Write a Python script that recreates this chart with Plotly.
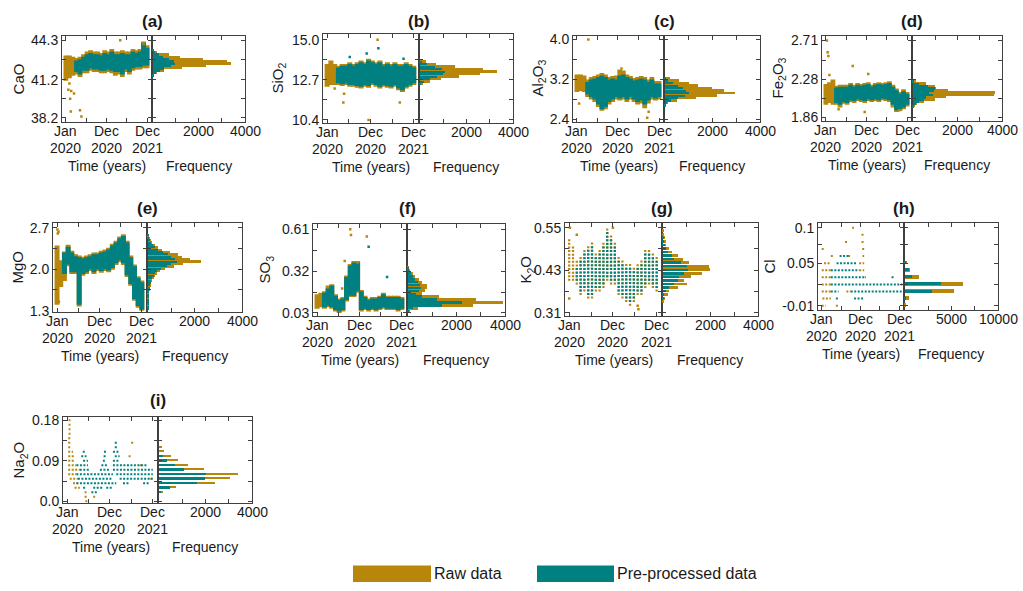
import plotly.graph_objects as go

W, H = 1023, 591
GOLD = "#B8860B"
TEAL = "#008080"
AXC = "#404040"
TXT = "#1a1a1a"
FONT = "Liberation Sans, Arial, Helvetica, sans-serif"

# ---------------- shared time axis (months since Jan 2020) ----------------
months = list(range(24))
time_tickvals = [0, 11.5, 23]
time_minor_ticks = [5.75, 17.25]
time_labels_l1 = ["Jan", "Dec", "Dec"]
time_labels_l2 = ["2020", "2020", "2021"]

# ---------------- (a) CaO ----------------
a_raw_lo = [41.1, 41.3, 41.5, 41.6, 41.4, 41.7, 41.7, 41.9, 41.8, 41.8, 41.7, 41.7, 41.8, 41.7, 41.5, 41.6, 41.4, 41.8, 41.6, 41.9, 42.0, 42.0, 42.1, 42.1]
a_raw_hi = [43.1, 43.1, 43.0, 42.9, 43.0, 43.2, 43.4, 43.5, 43.4, 43.4, 43.3, 43.5, 43.4, 43.6, 43.4, 43.4, 43.5, 43.4, 43.4, 43.6, 43.5, 43.6, 44.2, 43.9]
a_pre_lo = [None, None, None, 41.8, 41.6, 41.9, 41.9, 42.1, 42.0, 42.0, 41.9, 41.9, 42.0, 41.9, 41.8, 41.8, 41.6, 42.0, 41.8, 42.1, 42.2, 42.2, 42.3, 42.3]
a_pre_hi = [None, None, None, 42.7, 42.8, 43.0, 43.2, 43.3, 43.2, 43.2, 43.1, 43.3, 43.2, 43.4, 43.2, 43.2, 43.3, 43.2, 43.2, 43.4, 43.3, 43.4, 44.1, 43.7]
a_out_t = [0.7, 1.2, 1.5, 1.4, 2.3, 4.0, 4.4, 15.4, 22.0, 1.0]
a_out_v = [40.4, 39.7, 40.3, 38.7, 40.1, 38.8, 38.3, 44.3, 44.0, 40.9]
a_bins = [43.51, 43.33, 43.15, 42.97, 42.79, 42.61, 42.43, 42.25, 42.07, 41.89, 41.71, 41.53]
a_raw_cnt = [60, 200, 700, 1200, 2200, 3200, 3400, 2300, 1250, 480, 200, 60]
a_pre_cnt = [30, 100, 250, 450, 700, 900, 970, 800, 500, 300, 150, 60]

# ---------------- (b) SiO2 ----------------
b_raw_lo = [12.3, 12.4, 12.4, 12.4, 12.35, 12.4, 12.3, 12.3, 12.25, 12.2, 12.3, 12.25, 12.4, 12.3, 12.2, 12.3, 12.25, 12.2, 12.3, 12.1, 12.0, 12.2, 12.3, 12.4]
b_raw_hi = [13.6, 13.8, 13.6, 13.5, 13.6, 13.6, 13.7, 13.6, 13.7, 13.8, 13.7, 13.9, 13.8, 13.7, 13.8, 13.6, 13.7, 13.6, 13.7, 13.6, 13.6, 13.7, 13.6, 13.5]
b_pre_lo = [None, None, None, 12.5, 12.45, 12.5, 12.4, 12.4, 12.35, 12.3, 12.4, 12.35, 12.5, 12.4, 12.3, 12.4, 12.35, 12.3, 12.4, 12.2, 12.1, 12.3, 12.4, 12.5]
b_pre_hi = [None, None, None, 13.4, 13.5, 13.5, 13.6, 13.5, 13.6, 13.7, 13.6, 13.8, 13.7, 13.6, 13.7, 13.5, 13.6, 13.5, 13.6, 13.5, 13.5, 13.6, 13.5, 13.4]
b_out_t = [4.5, 4.3, 13.4, 11.0, 19.3, 2.0]
b_out_v = [11.9, 11.4, 15.0, 10.4, 11.4, 12.2]
b_pout_t = [13.6, 6.0, 20.3, 10.5]
b_pout_v = [14.5, 14.0, 13.9, 14.2]
b_bins = [13.72, 13.57, 13.43, 13.29, 13.15, 13.0, 12.86, 12.72, 12.57, 12.43]
b_raw_cnt = [250, 700, 1500, 2700, 3300, 2600, 1700, 900, 450, 150]
b_pre_cnt = [80, 300, 650, 950, 1090, 1000, 750, 450, 200, 60]

# ---------------- (c) Al2O3 ----------------
c_raw_lo = [2.95, 2.97, 2.95, 2.85, 2.8, 2.75, 2.65, 2.57, 2.6, 2.7, 2.75, 2.8, 2.78, 2.8, 2.75, 2.8, 2.75, 2.7, 2.72, 2.62, 2.72, 2.8, 2.78, 2.8]
c_raw_hi = [3.3, 3.3, 3.28, 3.2, 3.25, 3.27, 3.3, 3.33, 3.3, 3.25, 3.27, 3.28, 3.4, 3.38, 3.3, 3.27, 3.23, 3.25, 3.27, 3.25, 3.2, 3.25, 3.17, 3.17]
c_pre_lo = [None, None, None, 2.9, 2.85, 2.8, 2.7, 2.6, 2.65, 2.75, 2.8, 2.85, 2.82, 2.85, 2.8, 2.85, 2.8, 2.75, 2.78, 2.7, 2.78, 2.85, 2.82, 2.85]
c_pre_hi = [None, None, None, 3.15, 3.2, 3.22, 3.25, 3.28, 3.25, 3.2, 3.22, 3.2, 3.28, 3.3, 3.25, 3.22, 3.18, 3.2, 3.22, 3.2, 3.15, 3.2, 3.12, 3.12]
c_out_t = [3.2, 0.6, 19.7, 20.1, 12.5]
c_out_v = [4.0, 2.72, 2.43, 2.55, 3.42]
c_bins = [3.22, 3.17, 3.12, 3.07, 3.02, 2.97, 2.92, 2.87, 2.82, 2.77, 2.72, 2.67]
c_raw_cnt = [200, 600, 1000, 1400, 2000, 2500, 2950, 2200, 1300, 500, 150, 50]
c_pre_cnt = [50, 150, 350, 550, 750, 900, 1000, 850, 550, 250, 100, 40]

# ---------------- (d) Fe2O3 ----------------
d_raw_lo = [2.0, 2.02, 2.0, 2.0, 1.97, 2.01, 2.0, 2.03, 2.02, 2.04, 2.03, 2.02, 2.04, 2.03, 2.04, 2.03, 2.05, 2.04, 2.03, 1.97, 1.92, 1.93, 1.95, 1.98]
d_raw_hi = [2.23, 2.25, 2.28, 2.21, 2.22, 2.22, 2.22, 2.24, 2.22, 2.24, 2.23, 2.24, 2.25, 2.22, 2.24, 2.25, 2.24, 2.25, 2.26, 2.22, 2.18, 2.14, 2.17, 2.14]
d_pre_lo = [None, None, None, 2.02, 2.0, 2.03, 2.02, 2.05, 2.04, 2.06, 2.05, 2.04, 2.06, 2.05, 2.06, 2.05, 2.07, 2.06, 2.05, 2.0, 1.94, 1.95, 1.97, 2.0]
d_pre_hi = [None, None, None, 2.19, 2.2, 2.2, 2.2, 2.22, 2.2, 2.22, 2.21, 2.22, 2.23, 2.2, 2.22, 2.23, 2.22, 2.23, 2.24, 2.2, 2.16, 2.12, 2.15, 2.12]
d_out_t = [0.3, 0.5, 0.7, 7.6, 12.0, 11.0, 3.6, 20.8, 1.0]
d_out_v = [2.71, 2.58, 2.54, 2.43, 2.34, 1.92, 1.95, 1.94, 2.33]
d_bins = [2.255, 2.23, 2.205, 2.18, 2.155, 2.13, 2.105, 2.08, 2.055, 2.03, 2.005, 1.98]
d_raw_cnt = [150, 600, 1000, 1050, 1600, 3700, 3650, 1500, 1000, 500, 200, 80]
d_pre_cnt = [50, 300, 700, 1000, 950, 750, 900, 600, 500, 300, 150, 60]

# ---------------- (e) MgO ----------------
e_raw_lo = [1.4, 1.7, 1.8, 2.05, 1.92, 1.92, 1.37, 1.89, 1.92, 1.97, 1.92, 1.97, 1.94, 1.97, 1.95, 1.99, 2.07, 2.12, 2.07, 1.87, 1.72, 1.47, 1.35, 1.3]
e_raw_hi = [2.4, 2.15, 2.3, 2.41, 2.31, 2.25, 2.23, 2.21, 2.23, 2.25, 2.28, 2.28, 2.31, 2.33, 2.36, 2.43, 2.48, 2.55, 2.59, 2.48, 2.23, 2.08, 1.88, 1.81]
e_pre_lo = [None, None, 1.92, 2.08, 1.95, 1.95, 1.4, 1.92, 1.95, 2.0, 1.95, 2.0, 1.97, 2.0, 1.98, 2.02, 2.1, 2.15, 2.1, 1.9, 1.75, 1.5, 1.38, 1.32]
e_pre_hi = [None, None, 2.28, 2.38, 2.28, 2.22, 2.2, 2.18, 2.2, 2.22, 2.25, 2.25, 2.28, 2.3, 2.33, 2.4, 2.45, 2.52, 2.56, 2.45, 2.2, 2.05, 1.85, 1.78]
e_out_t = [0.1, 0.2, 0.5, 0.4]
e_out_v = [2.67, 2.6, 1.45, 2.63]
e_bins = [2.56, 2.52, 2.48, 2.44, 2.40, 2.36, 2.32, 2.28, 2.24, 2.20, 2.16, 2.12, 2.08, 2.04, 2.00, 1.96,
          1.92, 1.88, 1.84, 1.80, 1.76, 1.72, 1.68, 1.64, 1.60, 1.56, 1.52, 1.48, 1.44, 1.40, 1.36, 1.32]
e_raw_cnt = [60, 100, 150, 200, 300, 450, 600, 950, 1300, 1450, 1800, 2250, 1500, 1100, 750, 500,
             400, 300, 250, 200, 150, 120, 100, 80, 70, 60, 60, 60, 60, 60, 50, 40]
e_pre_cnt = [40, 70, 100, 150, 220, 320, 450, 650, 850, 1000, 1150, 1250, 1000, 800, 550, 400,
             300, 250, 200, 150, 120, 100, 80, 60, 50, 50, 50, 50, 50, 50, 40, 30]

# ---------------- (f) SO3 ----------------
f_raw_lo = [0.06, 0.07, 0.06, 0.07, 0.06, 0.04, 0.03, 0.04, 0.11, 0.14, 0.14, 0.17, 0.04, 0.05, 0.04, 0.05, 0.04, 0.05, 0.06, 0.05, 0.05, 0.05, 0.04, 0.05]
f_raw_hi = [0.16, 0.17, 0.18, 0.22, 0.23, 0.16, 0.13, 0.14, 0.29, 0.37, 0.39, 0.39, 0.19, 0.15, 0.13, 0.14, 0.14, 0.15, 0.17, 0.15, 0.15, 0.15, 0.15, 0.14]
f_pre_lo = [None, None, 0.07, 0.08, 0.07, 0.05, 0.04, 0.05, 0.12, 0.15, 0.15, 0.18, 0.05, 0.06, 0.05, 0.06, 0.05, 0.06, 0.07, 0.06, 0.06, 0.06, 0.05, 0.06]
f_pre_hi = [None, None, 0.17, 0.2, 0.22, 0.15, 0.12, 0.13, 0.28, 0.36, 0.38, 0.38, 0.18, 0.14, 0.12, 0.13, 0.13, 0.14, 0.16, 0.14, 0.14, 0.14, 0.14, 0.13]
f_out_t = [9.0, 9.2, 13.5, 7.5, 11.0, 6.8]
f_out_v = [0.61, 0.57, 0.56, 0.39, 0.38, 0.20]
f_pout_t = [14.0, 19.0]
f_pout_v = [0.49, 0.28]
f_bins = [0.34, 0.32, 0.30, 0.28, 0.26, 0.24, 0.22, 0.20, 0.18, 0.16, 0.14, 0.12, 0.10, 0.08, 0.06, 0.04]
f_raw_cnt = [60, 100, 200, 300, 450, 600, 800, 800, 700, 600, 1300, 2800, 3900, 2700, 400, 80]
f_pre_cnt = [30, 60, 120, 200, 300, 400, 500, 550, 450, 350, 600, 1200, 2250, 1400, 200, 40]

# ---------------- (g) K2O ----------------
g_raw_lo = [0.40, 0.40, 0.39, 0.36, 0.37, 0.35, 0.35, 0.37, 0.37, 0.38, 0.40, 0.39, 0.39, 0.36, 0.35, 0.34, 0.33, 0.34, 0.36, 0.36, 0.38, 0.39, 0.38, 0.37]
g_raw_hi = [0.52, 0.50, 0.46, 0.47, 0.49, 0.50, 0.51, 0.48, 0.49, 0.51, 0.55, 0.53, 0.51, 0.47, 0.46, 0.45, 0.45, 0.44, 0.45, 0.46, 0.49, 0.49, 0.48, 0.47]
g_pre_lo = [None, None, 0.40, 0.37, 0.38, 0.36, 0.36, 0.38, 0.38, 0.39, 0.41, 0.40, 0.40, 0.37, 0.36, 0.35, 0.34, 0.35, 0.37, 0.37, 0.39, 0.40, 0.39, 0.38]
g_pre_hi = [None, None, 0.44, 0.46, 0.48, 0.49, 0.50, 0.47, 0.48, 0.50, 0.54, 0.52, 0.50, 0.46, 0.45, 0.44, 0.44, 0.43, 0.44, 0.45, 0.48, 0.48, 0.47, 0.46]
g_out_t = [0.2, 2.0, 11.5, 18.2, 18.0, 0.0]
g_out_v = [0.55, 0.53, 0.55, 0.32, 0.33, 0.35]
g_levels = [0.54, 0.53, 0.52, 0.51, 0.50, 0.49, 0.48, 0.47, 0.46, 0.45, 0.44, 0.43, 0.42, 0.41, 0.40, 0.39, 0.38, 0.37, 0.36, 0.35, 0.34]
g_raw_cnt = [60, 60, 90, 120, 150, 250, 400, 650, 870, 1100, 1950, 2000, 1650, 1170, 900, 1000, 620, 280, 200, 100, 50]
g_pre_cnt = [0, 0, 30, 50, 80, 150, 200, 400, 480, 750, 1030, 1050, 900, 690, 620, 480, 280, 140, 60, 30, 0]

# ---------------- (h) Cl (discrete levels: level, start month, end month) ----------------
h_raw_lv = [0.10, 0.09, 0.08, 0.08, 0.07, 0.07, 0.06, 0.06, 0.06, 0.05, 0.05, 0.04, 0.04, 0.03, 0.03, 0.02, 0.01, 0.01, 0.00, -0.01, -0.01]
h_raw_t0 = [9.0, 11.8, 6.9, 11.8, 0.0, 12.0, 2.7, 7.8, 12.1, 0.7, 11.1, 0.0, 11.1, 0.0, 12.8, 0.0, 0.0, 7.3, 0.2, 0.0, 4.2]
h_raw_t1 = [9.6, 12.4, 7.9, 12.4, 0.6, 12.6, 3.4, 8.4, 12.6, 2.7, 12.6, 2.7, 12.6, 2.7, 13.1, 2.7, 2.7, 8.6, 2.7, 1.2, 5.1]
h_pre_lv = [0.06, 0.05, 0.04, 0.03, 0.03, 0.02, 0.01, 0.01, 0.00, 0.00]
h_pre_t0 = [5.3, 4.4, 2.7, 2.7, 20.7, 2.7, 2.7, 8.6, 4.2, 9.6]
h_pre_t1 = [7.9, 10.6, 11.1, 13.1, 21.3, 23.9, 5.0, 23.9, 5.1, 12.6]
h_levels = [0.05, 0.04, 0.03, 0.02, 0.01, 0.00, -0.01]
h_raw_cnt = [250, 600, 1500, 6200, 5300, 430, 100]
h_pre_cnt = [60, 430, 790, 3900, 2900, 140, 0]

# ---------------- (i) Na2O (discrete levels) ----------------
i_raw_lv = [0.18, 0.17, 0.16, 0.15, 0.14, 0.13, 0.13, 0.12, 0.11, 0.10, 0.10, 0.09, 0.08, 0.07, 0.06, 0.05, 0.04, 0.03, 0.02, 0.01, 0.01, 0.00, 0.08, 0.05]
i_raw_t0 = [0.4, 0.4, 0.4, 0.4, 0.3, 0.3, 17.2, 0.3, 0.3, 0.3, 16.5, 0.3, 0.3, 0.3, 0.3, 0.7, 1.6, 2.0, 4.7, 4.7, 7.0, 4.9, 19.5, 22.3]
i_raw_t1 = [0.9, 0.9, 0.9, 0.9, 1.2, 1.2, 17.8, 1.2, 1.6, 2.0, 17.1, 2.0, 2.5, 3.4, 2.5, 2.9, 2.9, 3.4, 5.6, 5.6, 7.9, 5.5, 20.5, 23.2]
i_pre_lv = [0.13, 0.12, 0.11, 0.11, 0.11, 0.10, 0.10, 0.10, 0.09, 0.09, 0.09, 0.08, 0.08, 0.08, 0.07, 0.07, 0.07,
            0.06, 0.06, 0.05, 0.05, 0.04, 0.04, 0.04, 0.03, 0.03, 0.03, 0.02]
i_pre_t0 = [12.8, 12.8, 4.2, 9.9, 12.3, 3.8, 9.8, 12.8, 4.3, 9.6, 12.3, 2.5, 9.2, 12.3, 3.4, 8.8, 12.3,
            2.5, 13.2, 2.9, 14.1, 2.5, 15.0, 20.4, 4.3, 7.0, 10.5, 6.5]
i_pre_t1 = [13.7, 13.7, 4.8, 10.5, 14.1, 5.2, 10.4, 14.1, 5.6, 10.5, 14.1, 5.6, 11.0, 21.3, 6.1, 11.4, 23.0,
            12.3, 23.0, 12.3, 23.0, 13.2, 16.8, 22.1, 5.2, 9.6, 12.3, 8.3]
i_levels = [0.12, 0.11, 0.10, 0.09, 0.08, 0.07, 0.06, 0.05, 0.04, 0.03, 0.02]
i_raw_cnt = [160, 230, 540, 840, 1260, 1960, 3380, 3040, 2400, 720, 200]
i_pre_cnt = [0, 0, 200, 370, 680, 1080, 2040, 2000, 1650, 480, 90]

# ---------------- panel layout (pixel boxes: left, divider, right, top, bottom) ----------------
panels = [
    dict(title="(a)", ylab="CaO", box=(62, 152, 245, 32, 119), ylabpos=(18, 76), ty=17,
         yrange=[37.9, 44.6], ytv=[38.2, 41.2, 44.3], ytt=["38.2", "41.2", "44.3"], ymin=[39.75, 42.75],
         hmax=4000, kind="band", raw=(a_raw_lo, a_raw_hi), pre=(a_pre_lo, a_pre_hi),
         out=(a_out_t, a_out_v), pout=None, hist=(a_bins, a_raw_cnt, a_pre_cnt, 0.18)),
    dict(title="(b)", ylab="SiO<sub>2</sub>", box=(323, 419, 513, 30, 120), ylabpos=(278, 75), ty=17,
         yrange=[10.25, 15.3], ytv=[10.4, 12.7, 15.0], ytt=["10.4", "12.7", "15.0"], ymin=[11.55, 13.85],
         hmax=4000, kind="band", raw=(b_raw_lo, b_raw_hi), pre=(b_pre_lo, b_pre_hi),
         out=(b_out_t, b_out_v), pout=(b_pout_t, b_pout_v), hist=(b_bins, b_raw_cnt, b_pre_cnt, 0.14)),
    dict(title="(c)", ylab="Al<sub>2</sub>O<sub>3</sub>", box=(573, 664, 760, 32, 119), ylabpos=(538, 75), ty=17,
         yrange=[2.355, 4.065], ytv=[2.4, 3.2, 4.0], ytt=["2.4", "3.2", "4.0"], ymin=[2.8, 3.6],
         hmax=4000, kind="band", raw=(c_raw_lo, c_raw_hi), pre=(c_pre_lo, c_pre_hi),
         out=(c_out_t, c_out_v), pout=None, hist=(c_bins, c_raw_cnt, c_pre_cnt, 0.05)),
    dict(title="(d)", ylab="Fe<sub>2</sub>O<sub>3</sub>", box=(822, 912, 1002, 32, 118), ylabpos=(778, 75), ty=17,
         yrange=[1.824, 2.757], ytv=[1.86, 2.28, 2.71], ytt=["1.86", "2.28", "2.71"], ymin=[2.07, 2.495],
         hmax=4000, kind="band", raw=(d_raw_lo, d_raw_hi), pre=(d_pre_lo, d_pre_hi),
         out=(d_out_t, d_out_v), pout=None, hist=(d_bins, d_raw_cnt, d_pre_cnt, 0.025)),
    dict(title="(e)", ylab="MgO", box=(53, 147, 242, 223, 313), ylabpos=(18, 268), ty=208,
         yrange=[1.285, 2.77], ytv=[1.3, 2.0, 2.7], ytt=["1.3", "2.0", "2.7"], ymin=[1.65, 2.35],
         hmax=4000, kind="band", raw=(e_raw_lo, e_raw_hi), pre=(e_pre_lo, e_pre_hi),
         out=(e_out_t, e_out_v), pout=None, hist=(e_bins, e_raw_cnt, e_pre_cnt, 0.04)),
    dict(title="(f)", ylab="SO<sub>3</sub>", box=(313, 407, 505, 224, 317), ylabpos=(266, 270), ty=208,
         yrange=[0.012, 0.644], ytv=[0.03, 0.32, 0.61], ytt=["0.03", "0.32", "0.61"], ymin=[0.175, 0.465],
         hmax=4000, kind="band", raw=(f_raw_lo, f_raw_hi), pre=(f_pre_lo, f_pre_hi),
         out=(f_out_t, f_out_v), pout=(f_pout_t, f_pout_v), hist=(f_bins, f_raw_cnt, f_pre_cnt, 0.02)),
    dict(title="(g)", ylab="K<sub>2</sub>O", box=(565, 662, 758, 223, 317), ylabpos=(527, 270), ty=208,
         yrange=[0.302, 0.562], ytv=[0.31, 0.43, 0.55], ytt=["0.31", "0.43", "0.55"], ymin=[0.37, 0.49],
         hmax=4000, kind="dotband", raw=(g_raw_lo, g_raw_hi), pre=(g_pre_lo, g_pre_hi),
         out=(g_out_t, g_out_v), pout=None, hist=(g_levels, g_raw_cnt, g_pre_cnt, 0.008)),
    dict(title="(h)", ylab="Cl", box=(818, 904, 998, 223, 311), ylabpos=(770, 267), ty=208,
         yrange=[-0.0156, 0.106], ytv=[-0.01, 0.05, 0.1], ytt=["-0.01", "0.05", "0.1"], ymin=[0.02, 0.0757],
         hmax=10000, kind="levels", raw=(h_raw_lv, h_raw_t0, h_raw_t1), pre=(h_pre_lv, h_pre_t0, h_pre_t1),
         out=None, pout=None, hist=(h_levels, h_raw_cnt, h_pre_cnt, 0.005)),
    dict(title="(i)", ylab="Na<sub>2</sub>O", box=(63, 158, 252, 421, 508), ylabpos=(20, 465), ty=404,
         yrange=[-0.003, 0.186], ytv=[0.0, 0.09, 0.18], ytt=["0.0", "0.09", "0.18"], ymin=[0.045, 0.135],
         hmax=4000, kind="levels", raw=(i_raw_lv, i_raw_t0, i_raw_t1), pre=(i_pre_lv, i_pre_t0, i_pre_t1),
         out=None, pout=None, hist=(i_levels, i_raw_cnt, i_pre_cnt, 0.005)),
]

T_RANGE = [-1.1, 24.4]


def fx(px):
    return px / W


def fy(py):
    return 1 - py / H


def band_xy(t, lo, hi):
    xs, ys = [], []
    for a, b, c in zip(t, lo, hi):
        if b is None or c is None:
            continue
        xs += [a, a, None]
        ys += [b, c, None]
    return xs, ys


def level_xy(lv, t0, t1):
    xs, ys = [], []
    for v, a, b in zip(lv, t0, t1):
        xs += [a, b, None]
        ys += [v, v, None]
    return xs, ys


axstyle = dict(showline=True, linecolor=AXC, linewidth=1, mirror="ticks", ticks="inside",
               ticklen=4, tickwidth=1, tickcolor=AXC, showgrid=False, zeroline=False,
               tickfont=dict(family=FONT, size=14, color=TXT))
tick_font = dict(family=FONT, size=14, color=TXT)


def minor(vals):
    return dict(tickmode="array", tickvals=vals, ticks="inside", ticklen=4, tickwidth=1,
                tickcolor=AXC, showgrid=False)


fig = go.Figure()
layout_axes = {}
annotations = []

for k, p in enumerate(panels):
    L, D, R, T, B = p["box"]
    n1, n2 = 2 * k + 1, 2 * k + 2
    xr1 = "x" if n1 == 1 else f"x{n1}"
    yr1 = "y" if n1 == 1 else f"y{n1}"
    xr2, yr2 = f"x{n2}", f"y{n2}"
    xn1 = "xaxis" if n1 == 1 else f"xaxis{n1}"
    yn1 = "yaxis" if n1 == 1 else f"yaxis{n1}"
    xn2, yn2 = f"xaxis{n2}", f"yaxis{n2}"
    hmax = p["hmax"]
    layout_axes[xn1] = dict(domain=[fx(L), fx(D)], anchor=yr1, range=T_RANGE, tickmode="array",
                            tickvals=time_tickvals, showticklabels=False, minor=minor(time_minor_ticks), **axstyle)
    layout_axes[yn1] = dict(domain=[fy(B), fy(T)], anchor=xr1, range=p["yrange"], tickmode="array",
                            tickvals=p["ytv"], ticktext=p["ytt"], minor=minor(p["ymin"]), **axstyle)
    layout_axes[xn2] = dict(domain=[fx(D), fx(R)], anchor=yr2, range=[-0.008 * hmax, hmax], tickmode="array",
                            tickvals=[0, hmax / 2, hmax], minor=minor([hmax / 4, 3 * hmax / 4]),
                            showticklabels=False, **axstyle)
    layout_axes[yn2] = dict(domain=[fy(B), fy(T)], anchor=xr2, range=p["yrange"], tickmode="array",
                            tickvals=p["ytv"], minor=minor(p["ymin"]), showticklabels=False, **axstyle)

    mw = (D - L) / (T_RANGE[1] - T_RANGE[0])  # pixels per month
    common = dict(xaxis=xr1, yaxis=yr1, showlegend=False, hoverinfo="skip")
    if p["kind"] in ("band", "dotband"):
        dash = "solid" if p["kind"] == "band" else "2px,1.6px"
        lw = mw * 1.35 if p["kind"] == "band" else mw * 0.6
        for (lo, hi), col in ((p["raw"], GOLD), (p["pre"], TEAL)):
            xs, ys = band_xy(months, lo, hi)
            fig.add_trace(go.Scatter(x=xs, y=ys, mode="lines",
                                     line=dict(color=col, width=lw, dash=dash), **common))
    else:
        for (lv, t0, t1), col in ((p["raw"], GOLD), (p["pre"], TEAL)):
            xs, ys = level_xy(lv, t0, t1)
            fig.add_trace(go.Scatter(x=xs, y=ys, mode="lines",
                                     line=dict(color=col, width=2, dash="2px,1.5px"), **common))
    if p["out"]:
        fig.add_trace(go.Scatter(x=p["out"][0], y=p["out"][1], mode="markers",
                                 marker=dict(color=GOLD, size=2.5, symbol="square"), **common))
    if p["pout"]:
        fig.add_trace(go.Scatter(x=p["pout"][0], y=p["pout"][1], mode="markers",
                                 marker=dict(color=TEAL, size=2.5, symbol="square"), **common))

    bins, rc, pc, bw = p["hist"]
    fig.add_trace(go.Bar(y=bins, x=rc, orientation="h", width=bw, marker=dict(color=GOLD, line=dict(width=0)),
                         xaxis=xr2, yaxis=yr2, showlegend=False, hoverinfo="skip"))
    fig.add_trace(go.Bar(y=bins, x=pc, orientation="h", width=bw * 0.85, marker=dict(color=TEAL, line=dict(width=0)),
                         xaxis=xr2, yaxis=yr2, showlegend=False, hoverinfo="skip"))

    # time tick labels (two lines) placed at tick values
    for tv, l1, l2 in zip(time_tickvals, time_labels_l1, time_labels_l2):
        annotations.append(dict(x=tv, y=fy(B + 10), xref=xr1, yref="paper", text=l1, showarrow=False,
                                font=tick_font, xanchor="center", yanchor="middle"))
        annotations.append(dict(x=tv, y=fy(B + 27), xref=xr1, yref="paper", text=l2, showarrow=False,
                                font=tick_font, xanchor="center", yanchor="middle"))
    # histogram tick labels
    for hv in (hmax // 2, hmax):
        annotations.append(dict(x=hv, y=fy(B + 10), xref=xr2, yref="paper", text=str(hv), showarrow=False,
                                font=tick_font, xanchor="center", yanchor="middle"))

    # titles
    annotations.append(dict(x=fx(D), y=fy(p["ty"]), xref="paper", yref="paper", text="<b>" + p["title"] + "</b>",
                            showarrow=False, font=dict(family=FONT, size=17, color=TXT),
                            xanchor="center", yanchor="middle"))
    annotations.append(dict(x=fx(p["ylabpos"][0]), y=fy(p["ylabpos"][1]), xref="paper", yref="paper",
                            text=p["ylab"], textangle=-90, showarrow=False,
                            font=dict(family=FONT, size=15, color=TXT), xanchor="center", yanchor="middle"))
    annotations.append(dict(x=fx((L + D) / 2), y=fy(B + 45), xref="paper", yref="paper", text="Time (years)",
                            showarrow=False, font=dict(family=FONT, size=14, color=TXT),
                            xanchor="center", yanchor="middle"))
    annotations.append(dict(x=fx((D + R) / 2), y=fy(B + 45), xref="paper", yref="paper", text="Frequency",
                            showarrow=False, font=dict(family=FONT, size=14, color=TXT),
                            xanchor="center", yanchor="middle"))

# legend
legend_items = [("Raw data", GOLD, 353, 431), ("Pre-processed data", TEAL, 537, 614)]
shapes = []
for label, col, x0, x1 in legend_items:
    shapes.append(dict(type="rect", xref="paper", yref="paper", x0=fx(x0), x1=fx(x1), y0=fy(589), y1=fy(572),
                       fillcolor=col, line=dict(width=0)))
    annotations.append(dict(x=fx(x1 + 1), y=fy(580), xref="paper", yref="paper", text=label, showarrow=False,
                            font=dict(family=FONT, size=16, color=TXT), xanchor="left", yanchor="middle"))

fig.update_layout(width=W, height=H, margin=dict(l=0, r=0, t=0, b=0), paper_bgcolor="white",
                  plot_bgcolor="white", barmode="overlay", bargap=0, annotations=annotations, shapes=shapes,
                  font=dict(family=FONT, color=TXT), **layout_axes)

fig.write_html("out.html")
